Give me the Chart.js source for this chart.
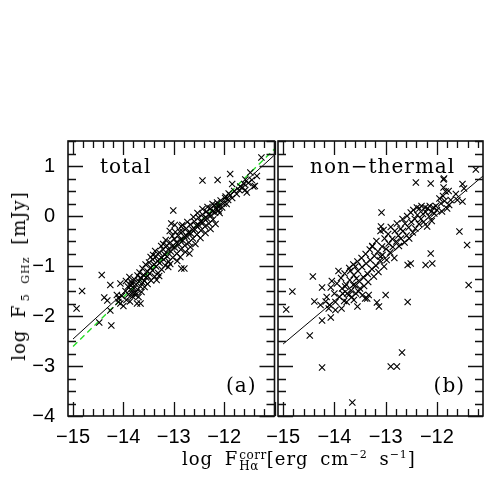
<!DOCTYPE html>
<html>
<head>
<meta charset="utf-8">
<script src="https://cdn.jsdelivr.net/npm/chart.js@4.4.0/dist/chart.umd.min.js"></script>
<style>
    body { margin: 0; background: #fff; width: 491px; height: 491px; position: relative; overflow: hidden; }
    canvas { position: absolute; top: 0; }
    #leftChart { left: 0; }
    #rightChart { left: 230px; }
    .axis-title { position: absolute; font-family: 'DejaVu Serif', serif; font-size: 18px; line-height: 18px; color: #000; white-space: nowrap; word-spacing: 5px; letter-spacing: 1px; }
    #xTitle { left: 182px; top: 450px; }
    #yTitle { left: 19px; top: 276px; transform: translate(-50%, -50%) rotate(-90deg); }
    .stack { display: inline-block; vertical-align: -4.5px; font-size: 12px; line-height: 10.5px; margin-left: 1px; letter-spacing: 0.5px; }
    .up { font-size: 11px; vertical-align: 7px; line-height: 0; }
    .low { font-size: 11px; vertical-align: -4px; line-height: 0; }
</style>
</head>
<body>
<canvas id="leftChart" width="280" height="491"></canvas>
<canvas id="rightChart" width="261" height="491"></canvas>
<div id="xTitle" class="axis-title">log F<span class="stack">corr<br>Hα</span>[erg cm<span class="up">−2</span> s<span class="up">−1</span>]</div>
<div id="yTitle" class="axis-title">log F<span class="low">&thinsp;5 GHz</span> [mJy]</div>
<script>
// panel (a): total radio flux vs corrected Halpha flux
const totalPoints = [
    [-14.82, -1.5], [-14.93, -1.85], [-14.43, -1.18], [-14.26, -1.38], [-14.06, -1.35], [-14.38, -1.63],
    [-14.32, -1.69], [-14.13, -1.58], [-14.09, -1.65], [-14.26, -1.89], [-14.48, -2.13], [-14.24, -2.19],
    [-14.06, -1.75], [-13.73, -1.75], [-13.66, -1.75], [-13.85, -1.31], [-13.83, -1.55], [-13.86, -1.38],
    [-13.01, 0.11], [-12.43, 0.71], [-12.13, 0.72], [-11.88, 0.84], [-11.26, 1.17], [-13.05, -0.15],
    [-12.98, -0.18], [-12.85, -0.21], [-12.88, -0.31], [-12.69, -0.75], [-12.85, -1.05], [-12.79, -1.05],
    [-11.58, 0.52], [-11.42, 0.59], [-11.84, 0.64], [-11.68, 0.59], [-11.55, 0.47], [-11.48, 0.87],
    [-11.39, 0.6], [-11.58, 0.73], [-11.91, 0.45], [-11.97, 0.39], [-13.08, -0.3],
    [-14.1, -1.72], [-14.03, -1.6], [-14.0, -1.8], [-13.96, -1.5], [-13.94, -1.68], [-13.91, -1.41],
    [-13.9, -1.57], [-13.87, -1.71], [-13.86, -1.47], [-13.83, -1.35], [-13.82, -1.61], [-13.79, -1.45],
    [-13.78, -1.27], [-13.76, -1.53], [-13.75, -1.37], [-13.72, -1.19], [-13.72, -1.47], [-13.69, -1.31],
    [-13.68, -1.13], [-13.66, -1.41], [-13.65, -1.24], [-13.62, -1.05], [-13.62, -1.33], [-13.59, -1.19],
    [-13.58, -1.42], [-13.56, -0.97], [-13.55, -1.23], [-13.52, -1.11], [-13.52, -1.36], [-13.49, -0.93],
    [-13.48, -1.15], [-13.46, -1.03], [-13.45, -1.29], [-13.42, -0.87], [-13.42, -1.09], [-13.39, -0.97],
    [-13.38, -1.21], [-13.35, -0.81], [-13.35, -1.01], [-13.32, -0.9], [-13.31, -1.14], [-13.29, -0.73],
    [-13.28, -0.94], [-13.25, -0.83], [-13.24, -1.07], [-13.21, -0.67], [-13.2, -0.87], [-13.18, -0.77],
    [-13.17, -0.99], [-13.14, -0.59], [-13.13, -0.81], [-13.11, -0.67], [-13.1, -0.91], [-13.07, -0.53],
    [-13.06, -0.71], [-13.03, -0.61], [-13.02, -0.83], [-12.99, -0.46], [-12.98, -0.63], [-12.95, -0.53],
    [-12.94, -0.75], [-12.91, -0.39], [-12.9, -0.57], [-12.87, -0.47], [-12.86, -0.67], [-12.83, -0.31],
    [-12.82, -0.49], [-12.79, -0.41], [-12.78, -0.59], [-12.75, -0.25], [-12.74, -0.41], [-12.71, -0.33],
    [-12.7, -0.53], [-12.67, -0.17], [-12.66, -0.35], [-12.63, -0.27], [-12.62, -0.45], [-12.59, -0.11],
    [-12.58, -0.27], [-12.55, -0.19], [-12.54, -0.37], [-12.51, -0.03], [-12.5, -0.19], [-12.47, -0.11],
    [-12.46, -0.29], [-12.43, 0.03], [-12.42, -0.13], [-12.39, -0.05], [-12.38, -0.21], [-12.35, 0.09],
    [-12.34, -0.05], [-12.31, 0.03], [-12.3, -0.15], [-12.27, 0.15], [-12.26, 0.01], [-12.23, 0.09],
    [-12.22, -0.07], [-12.19, 0.21], [-12.18, 0.07], [-12.15, 0.13], [-12.14, 0.27], [-12.11, 0.11],
    [-12.1, 0.19], [-12.07, 0.31], [-12.04, 0.17], [-12.01, 0.25], [-11.98, 0.36], [-11.95, 0.24],
    [-11.92, 0.32], [-11.88, 0.42], [-11.84, 0.36], [-11.8, 0.5], [-11.75, 0.44], [-11.7, 0.52],
    [-11.64, 0.56], [-11.6, 0.64], [-11.52, 0.66], [-11.45, 0.72], [-11.35, 0.8],
    [-13.95, -1.3], [-13.88, -1.22], [-13.76, -1.58], [-13.7, -1.62], [-13.64, -1.52], [-13.58, -1.3],
    [-13.52, -1.2], [-13.46, -0.82], [-13.41, -0.78], [-13.37, -0.7], [-13.34, -1.28], [-13.29, -1.2],
    [-13.25, -0.6], [-13.21, -0.56], [-13.16, -0.48], [-13.11, -1.02], [-13.07, -0.96], [-13.03, -0.4],
    [-12.97, -0.32], [-12.93, -0.9], [-12.87, -0.82], [-12.83, -0.18], [-12.77, -0.72], [-12.73, -0.12],
    [-12.67, -0.62], [-12.61, -0.02], [-12.57, -0.56], [-12.53, 0.06], [-12.47, -0.44], [-12.43, 0.14],
    [-12.37, -0.34], [-12.33, 0.18], [-12.27, -0.26], [-12.23, 0.24], [-12.17, -0.16], [-12.13, 0.2],
    [-12.09, 0.06]
]

// panel (b): non-thermal radio flux
const nonThermalPoints = [
    [-11.24, 0.93], [-12.41, 0.67], [-12.12, 0.65], [-11.87, 0.73], [-13.08, 0.07], [-11.56, -0.31],
    [-11.41, -0.58], [-11.38, -1.38], [-14.42, -1.21], [-14.24, -1.43], [-14.07, -1.43], [-14.82, -1.51],
    [-11.87, 0.57], [-11.77, 0.5], [-11.63, 0.44], [-11.5, 0.64], [-11.5, 0.29], [-11.6, 0.32],
    [-12.51, -0.95], [-12.22, -0.98], [-12.09, -0.95], [-12.12, -0.75], [-12.57, -0.98], [-14.94, -1.87],
    [-14.48, -2.39], [-14.24, -2.09], [-14.07, -2.03], [-14.24, -3.03], [-13.65, -3.73], [-12.68, -2.73],
    [-12.9, -3.01], [-12.78, -3.01], [-12.57, -1.72], [-14.39, -1.71], [-14.27, -1.78], [-14.17, -1.71],
    [-14.09, -1.78], [-14.11, -1.85], [-13.98, -1.88], [-13.86, -1.85], [-13.55, -1.81], [-13.72, -1.58],
    [-13.62, -1.68], [-13.36, -1.65], [-13.17, -1.73], [-13.13, -1.81], [-13.0, -1.58], [-13.45, -1.58],
    [-13.79, -1.41], [-13.63, -1.38], [-13.53, -1.51], [-13.4, -1.65], [-13.33, -1.58], [-13.09, -0.21],
    [-13.04, -0.28], [-13.26, -0.61], [-13.1, -0.81], [-13.59, -1.01], [-11.86, 0.75], [-11.83, 0.49],
    [-11.47, 0.55], [-11.73, 0.32], [-11.76, 0.22], [-11.8, 0.15], [-11.9, 0.09],
    [-14.0, -1.55], [-13.95, -1.35], [-13.9, -1.62], [-13.87, -1.24], [-13.85, -1.45], [-13.81, -1.7],
    [-13.8, -1.15], [-13.77, -1.37], [-13.75, -1.55], [-13.71, -1.04], [-13.7, -1.28], [-13.67, -1.49],
    [-13.66, -1.62], [-13.63, -0.97], [-13.62, -1.18], [-13.59, -1.39], [-13.58, -1.55], [-13.55, -0.91],
    [-13.54, -1.1], [-13.51, -1.31], [-13.5, -1.45], [-13.47, -0.84], [-13.46, -1.02], [-13.43, -1.23],
    [-13.42, -1.4], [-13.39, -0.76], [-13.38, -0.95], [-13.35, -1.16], [-13.34, -1.32], [-13.31, -0.67],
    [-13.3, -0.88], [-13.27, -1.06], [-13.26, -0.6], [-13.23, -1.21], [-13.22, -0.8], [-13.19, -0.99],
    [-13.18, -0.5], [-13.15, -0.71], [-13.14, -1.12], [-13.11, -0.89], [-13.1, -0.3], [-13.07, -0.61],
    [-13.06, -0.78], [-13.03, -1.01], [-13.02, -0.45], [-12.99, -0.66], [-12.98, -0.88], [-12.95, -0.36],
    [-12.94, -0.55], [-12.91, -0.73], [-12.9, -0.22], [-12.87, -0.46], [-12.86, -0.62], [-12.83, -0.84],
    [-12.82, -0.3], [-12.79, -0.51], [-12.78, -0.15], [-12.75, -0.39], [-12.74, -0.6], [-12.71, -0.26],
    [-12.7, -0.45], [-12.67, -0.06], [-12.66, -0.3], [-12.63, -0.53], [-12.62, -0.15], [-12.59, -0.39],
    [-12.58, 0.0], [-12.55, -0.23], [-12.54, -0.45], [-12.51, 0.07], [-12.5, -0.12], [-12.47, -0.33],
    [-12.46, 0.12], [-12.43, -0.06], [-12.42, -0.25], [-12.39, 0.17], [-12.38, 0.02], [-12.35, -0.16],
    [-12.34, 0.15], [-12.31, -0.06], [-12.3, 0.2], [-12.27, 0.04], [-12.26, -0.12], [-12.23, 0.17],
    [-12.22, 0.08], [-12.19, -0.21], [-12.18, 0.15], [-12.15, -0.01], [-12.14, 0.2], [-12.11, 0.09],
    [-12.1, -0.1], [-12.07, 0.17], [-12.05, 0.05], [-12.02, 0.2], [-12.0, 0.12], [-11.95, 0.35],
    [-11.92, 0.25], [-11.88, 0.4], [-11.85, 0.3],
    [-14.15, -1.62], [-14.05, -1.3], [-13.98, -1.72], [-13.92, -1.1], [-13.84, -1.55], [-13.76, -1.72],
    [-13.69, -1.1], [-13.57, -1.25]
]

// fitted relations
const totalFitX = [-15, -11]
const totalFitY = [-2.46, 1.22]
const equalityX = [-15, -11]
const equalityY = [-2.61, 1.34]
const nonThermalFitX = [-15, -11.1]
const nonThermalFitY = [-2.56, 0.8]

const xTicks = [-15, -14, -13, -12]
const yTicks = [-4, -3, -2, -1, 0, 1]
const yRange = [-4, 1.5]

function fmt(v) {
    return String(v).replace('-', '\u2212')
}

function toXY(xs, ys) {
    return xs.map((x, i) => ({ x, y: ys[i] }))
}

// frame, inward ticks on every side, and panel labels
const framePlugin = {
    id: 'frame',
    afterDraw(chart, args, opts) {
        const { ctx, chartArea: a } = chart
        const x = chart.scales.x
        const y = chart.scales.y
        ctx.save()
        ctx.strokeStyle = '#111'
        ctx.lineWidth = 1.3
        ctx.beginPath()
        for (let i = Math.ceil(x.min * 5); i <= Math.floor(x.max * 5); i++) {
            const px = Math.round(x.getPixelForValue(i / 5)) + 0.5
            const len = i % 5 === 0 ? 14 : 7
            ctx.moveTo(px, a.bottom)
            ctx.lineTo(px, a.bottom - len)
            ctx.moveTo(px, a.top)
            ctx.lineTo(px, a.top + len)
        }
        for (let i = Math.ceil(y.min * 4); i <= Math.floor(y.max * 4); i++) {
            const py = Math.round(y.getPixelForValue(i / 4)) + 0.5
            const len = i % 4 === 0 ? 15 : 8
            ctx.moveTo(a.left, py)
            ctx.lineTo(a.left + len, py)
            ctx.moveTo(a.right, py)
            ctx.lineTo(a.right - len, py)
        }
        ctx.stroke()
        ctx.lineWidth = 1.6
        ctx.strokeRect(a.left, a.top, a.right - a.left, a.bottom - a.top)

        ctx.fillStyle = '#000'
        ctx.font = '20px "DejaVu Serif", serif'
        ctx.letterSpacing = '1px'
        ctx.textBaseline = 'alphabetic'
        ctx.textAlign = 'left'
        ctx.fillText(opts.title, a.left + 32, a.top + 32)
        ctx.textAlign = 'right'
        ctx.fillText(opts.tag, a.right - 18, a.bottom - 24)
        ctx.restore()
    },
}

function makePanel(canvasId, points, lines, xRange, yAxisWidth, padRight, showYLabels, title, tag) {
    const datasets = [
        {
            data: points.map(([x, y]) => ({ x, y })),
            pointStyle: 'crossRot',
            pointRadius: 4.4,
            pointBorderWidth: 1.1,
            pointBorderColor: '#000',
            pointBackgroundColor: '#000',
            showLine: false,
        },
    ]
    lines.forEach((l) => {
        datasets.push({
            data: toXY(l.x, l.y),
            showLine: true,
            borderColor: l.color,
            borderWidth: l.width,
            borderDash: l.dash || [],
            pointRadius: 0,
        })
    })

    return new Chart(document.getElementById(canvasId), {
        type: 'scatter',
        data: { datasets },
        options: {
            responsive: false,
            animation: false,
            devicePixelRatio: 1,
            layout: { padding: { top: 141, right: padRight, left: 0, bottom: 0 } },
            plugins: {
                legend: { display: false },
                tooltip: { enabled: false },
                frame: { title, tag },
            },
            scales: {
                x: {
                    type: 'linear',
                    min: xRange[0],
                    max: xRange[1],
                    grid: { display: false, drawTicks: false },
                    border: { display: false },
                    afterBuildTicks: (scale) => {
                        scale.ticks = xTicks.map((v) => ({ value: v }))
                    },
                    afterFit: (scale) => {
                        scale.height = 75
                    },
                    ticks: {
                        padding: 9,
                        color: '#000',
                        maxRotation: 0,
                        font: { family: '"Liberation Sans", sans-serif', size: 20 },
                        callback: (v) => fmt(v),
                    },
                },
                y: {
                    type: 'linear',
                    min: yRange[0],
                    max: yRange[1],
                    grid: { display: false, drawTicks: false },
                    border: { display: false },
                    afterBuildTicks: (scale) => {
                        scale.ticks = yTicks.map((v) => ({ value: v }))
                    },
                    afterFit: (scale) => {
                        scale.width = yAxisWidth
                    },
                    ticks: {
                        display: showYLabels,
                        padding: 13,
                        color: '#000',
                        font: { family: '"Liberation Sans", sans-serif', size: 20 },
                        callback: (v) => fmt(v),
                    },
                },
            },
        },
        plugins: [framePlugin],
    })
}

makePanel(
    'leftChart',
    totalPoints,
    [
        { x: totalFitX, y: totalFitY, color: '#000', width: 1 },
        { x: equalityX, y: equalityY, color: '#22dd22', width: 1.3, dash: [6, 4] },
    ],
    [-15.1, -11.0],
    68,
    2,
    true,
    'total',
    '(a)',
)

makePanel(
    'rightChart',
    nonThermalPoints,
    [{ x: nonThermalFitX, y: nonThermalFitY, color: '#000', width: 1 }],
    [-15.1, -11.1],
    48,
    8,
    false,
    'non\u2212thermal',
    '(b)',
)
</script>
</body>
</html>
